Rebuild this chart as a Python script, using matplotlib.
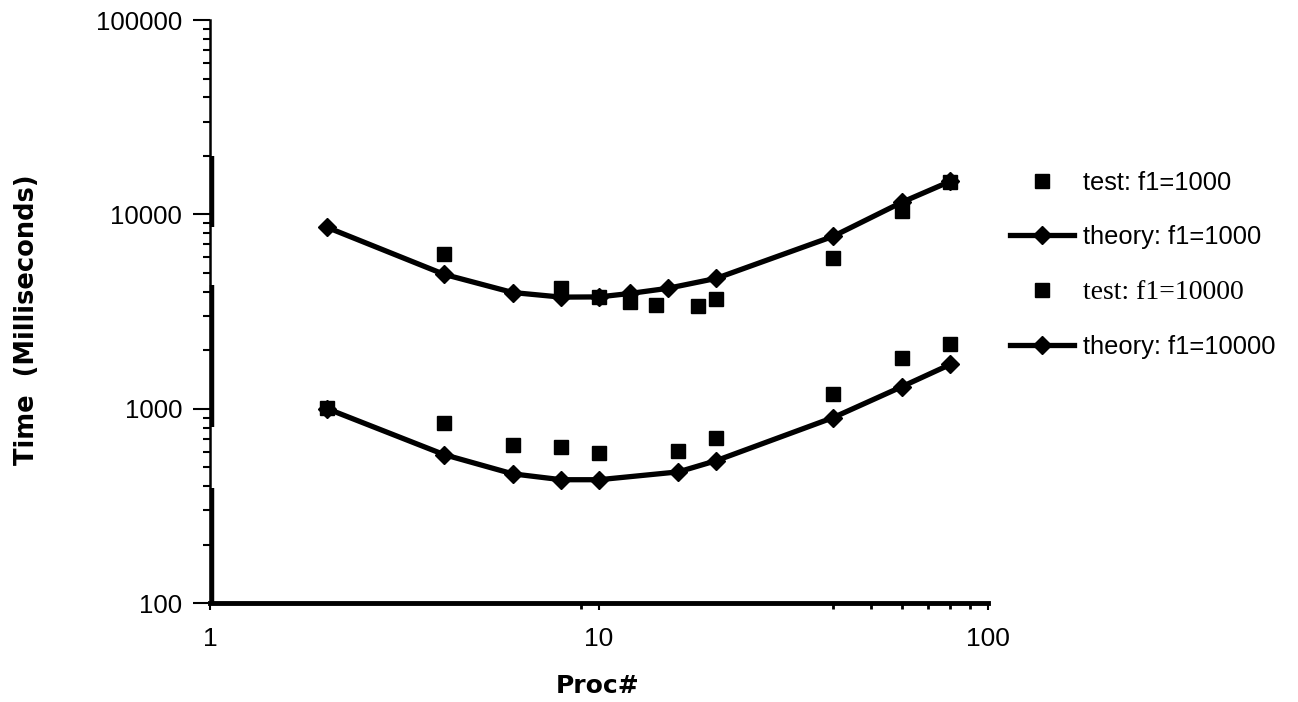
import matplotlib
matplotlib.use("Agg")
import matplotlib.pyplot as plt
import matplotlib.ticker as ticker

# dados (Proc# x tempo em ms)
theory_1000_proc = [2, 4, 6, 8, 10, 12, 15, 20, 40, 60, 80]
theory_1000_ms = [8570, 4910, 3960, 3750, 3760, 3915, 4160, 4680, 7710, 11530, 14790]

test_1000_proc = [4, 8, 10, 12, 14, 18, 20, 40, 60, 80]
test_1000_ms = [6220, 4160, 3775, 3560, 3435, 3390, 3650, 5930, 10350, 14620]

theory_10000_proc = [2, 4, 6, 8, 10, 16, 20, 40, 60, 80]
theory_10000_ms = [1000, 580, 462, 431, 431, 473, 540, 900, 1297, 1690]

test_10000_proc = [2, 4, 6, 8, 10, 16, 20, 40, 60, 80]
test_10000_ms = [1010, 848, 652, 637, 593, 608, 710, 1194, 1832, 2163]

legend_labels = ["test: f1=1000", "theory: f1=1000", "test: f1=10000", "theory: f1=10000"]

x_ticks = [1, 10, 100]
x_tick_labels = ["1", "10", "100"]
x_minor_ticks = [9, 40, 50, 60, 70, 80, 90]
y_ticks = [100, 1000, 10000, 100000]
y_tick_labels = ["100", "1000", "10000", "100000"]

# trechos grossos do eixo y (artefato do original escaneado)
scan_bars = [(8570, 19900), (807, 4350), (100, 392)]

fig = plt.figure(figsize=(12.98, 7.02), dpi=100)
ax = fig.add_axes([0.1618, 0.141, 0.5994, 0.8305])

ax.set_xscale("log")
ax.set_yscale("log")

h_th1, = ax.plot(theory_1000_proc, theory_1000_ms, color="black", lw=3.8,
                 marker="D", markersize=9.5)
h_th2, = ax.plot(theory_10000_proc, theory_10000_ms, color="black", lw=3.8,
                 marker="D", markersize=9.5)
h_t1, = ax.plot(test_1000_proc, test_1000_ms, color="black", linestyle="none",
                marker="s", markersize=10.5)
h_t2, = ax.plot(test_10000_proc, test_10000_ms, color="black", linestyle="none",
                marker="s", markersize=10.5)

ax.set_xlim(1, 100)
ax.set_ylim(100, 100000)

for lo, hi in scan_bars:
    ax.vlines(1.012, lo, hi, color="black", lw=3.2, clip_on=False)

# eixos
for s in ["top", "right"]:
    ax.spines[s].set_visible(False)
ax.spines["left"].set_linewidth(1.8)
ax.spines["bottom"].set_linewidth(3.5)

ax.set_xticks(x_ticks)
ax.set_xticklabels(x_tick_labels, fontfamily="Liberation Sans", fontsize=19)
ax.xaxis.set_minor_locator(ticker.FixedLocator(x_minor_ticks))
ax.xaxis.set_minor_formatter(ticker.NullFormatter())
ax.set_yticks(y_ticks)
ax.set_yticklabels(y_tick_labels, fontfamily="Liberation Sans", fontsize=18.5)
ax.yaxis.set_minor_locator(ticker.LogLocator(base=10, subs=range(2, 10), numticks=20))
ax.yaxis.set_minor_formatter(ticker.NullFormatter())

ax.tick_params(axis="x", which="major", direction="out", length=5, width=1.5, pad=12)
ax.tick_params(axis="x", which="minor", direction="out", length=4, width=2)
ax.tick_params(axis="y", which="major", direction="out", length=12, width=1.5, pad=8)
ax.tick_params(axis="y", which="minor", direction="out", length=5, width=1.5)

ax.set_xlabel("Proc#", fontfamily="DejaVu Sans", fontweight="heavy", fontsize=18)
ax.set_ylabel("Time  (Milliseconds)", fontfamily="DejaVu Sans", fontweight="heavy",
              fontsize=18.5)
ax.xaxis.set_label_coords(0.4987, -0.122)
ax.yaxis.set_label_coords(-0.2185, 0.4854)

leg = fig.legend([h_t1, h_th1, h_t2, h_th2], legend_labels, loc="upper left",
                 bbox_to_anchor=(0.778, 0.756), frameon=False, fontsize=18.4,
                 handlelength=2.5, handletextpad=0.35, labelspacing=1.18,
                 borderaxespad=0, borderpad=0)
for i, t in enumerate(leg.get_texts()):
    t.set_fontfamily("Liberation Sans")
    if i == 2:
        t.set_fontfamily("Liberation Serif")
        t.set_fontsize(20)

fig.savefig("out.png", dpi=100)
